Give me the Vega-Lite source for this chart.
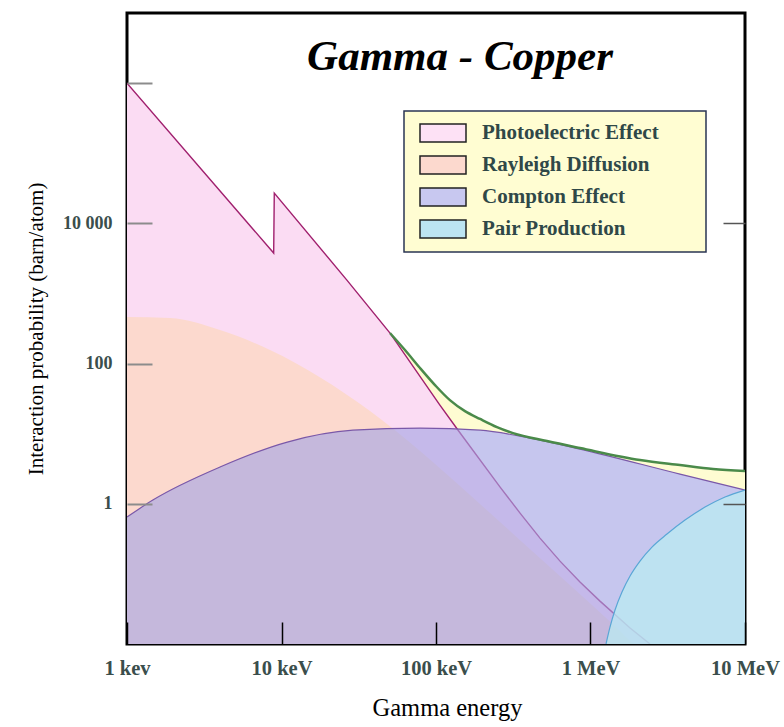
{
  "$schema": "https://vega.github.io/schema/vega-lite/v6.json",
  "width": 618,
  "height": 631,
  "autosize": {"type": "none"},
  "padding": {"left": 127, "top": 13, "right": 39, "bottom": 83},
  "background": "white",
  "title": {"text": "Gamma - Copper", "font": "Liberation Serif", "fontSize": 43, "fontStyle": "italic", "fontWeight": "bold", "color": "black", "anchor": "middle", "offset": -56, "dx": 24, "dy": 44, "baseline": "alphabetic"},
  "config": {
    "view": {"stroke": "black", "strokeWidth": 3},
    "axis": {"domain": false, "grid": false},
    "legend": {"strokeWidth": 1.5}
  },
  "datasets": {
    "photo": [
      {"E": 1, "v": 1000000}, {"E": 8.9, "v": 3770}, {"E": 8.98, "v": 27000}, {"E": 26.5, "v": 1550},
      {"E": 50.4, "v": 272}, {"E": 106, "v": 25.6}, {"E": 139, "v": 11.2}, {"E": 260, "v": 1.73},
      {"E": 350, "v": 0.736}, {"E": 471, "v": 0.324}, {"E": 635, "v": 0.152}, {"E": 855, "v": 0.0764},
      {"E": 1152, "v": 0.0409}, {"E": 1803, "v": 0.0169}, {"E": 2427, "v": 0.01}
    ],
    "rayleigh": [
      {"E": 1, "v": 460}, {"E": 1.9, "v": 446}, {"E": 4, "v": 301}, {"E": 8.43, "v": 156},
      {"E": 17.7, "v": 64}, {"E": 37.4, "v": 21.0}, {"E": 78.8, "v": 5.65}, {"E": 166, "v": 1.33},
      {"E": 350, "v": 0.303}, {"E": 1484, "v": 0.0169}, {"E": 1856, "v": 0.0106}, {"E": 1950, "v": 0.01}
    ],
    "compton": [
      {"E": 1, "v": 0.646}, {"E": 1.47, "v": 1.13}, {"E": 4, "v": 3.34}, {"E": 10.9, "v": 7.59},
      {"E": 29, "v": 11.2}, {"E": 78.8, "v": 12.0}, {"E": 193, "v": 11.2}, {"E": 406, "v": 8.65},
      {"E": 855, "v": 6.03}, {"E": 3795, "v": 2.65}, {"E": 10000, "v": 1.57}
    ],
    "pair": [
      {"E": 1260, "v": 0.01}, {"E": 1337, "v": 0.0174}, {"E": 1441, "v": 0.0305}, {"E": 1599, "v": 0.055},
      {"E": 1803, "v": 0.0931}, {"E": 2091, "v": 0.152}, {"E": 2500, "v": 0.241}, {"E": 3127, "v": 0.37},
      {"E": 4090, "v": 0.585}, {"E": 5510, "v": 0.897}, {"E": 7424, "v": 1.25}, {"E": 10000, "v": 1.57}
    ],
    "total": [
      {"E": 50.4, "v": 272}, {"E": 63, "v": 156}, {"E": 78.8, "v": 86.3}, {"E": 98.5, "v": 49.3},
      {"E": 123, "v": 30.1}, {"E": 154, "v": 21.0}, {"E": 193, "v": 16.2}, {"E": 248, "v": 12.4},
      {"E": 315, "v": 10.2}, {"E": 523, "v": 7.84}, {"E": 855, "v": 6.23}, {"E": 2091, "v": 4.2},
      {"E": 3795, "v": 3.56}, {"E": 6209, "v": 3.13}, {"E": 10000, "v": 2.93}
    ]
  },
  "resolve": {"axis": {"x": "independent", "y": "independent"}},
  "layer": [
    {
      "data": {"name": "total"},
      "mark": {"type": "area", "fill": "#fefcd2", "interpolate": "monotone", "clip": true},
      "encoding": {
        "x": {"field": "E", "type": "quantitative", "scale": {"type": "log", "domain": [1, 10000]},
          "axis": {"orient": "bottom", "values": [1, 10, 100, 1000, 10000], "zindex": 1,
            "labelExpr": "datum.value == 1 ? '1 kev' : datum.value == 10 ? '10 keV' : datum.value == 100 ? '100 keV' : datum.value == 1000 ? '1 MeV' : '10 MeV'",
            "tickSize": -22, "tickColor": "black", "tickWidth": 1.5,
            "labelFont": "Liberation Serif", "labelFontSize": 20.5, "labelFontWeight": "bold", "labelColor": "#3a4e4c", "labelPadding": 36,
            "labelBaseline": "top", "labelFlush": false, "labelOverlap": false, "labelBound": false,
            "title": "Gamma energy", "titleFont": "Liberation Serif", "titleFontSize": 24.5, "titleFontWeight": "normal",
            "titleColor": "black", "titlePadding": 18, "titleX": 320}},
        "y": {"field": "v", "type": "quantitative", "scale": {"type": "log", "domain": [0.01, 10000000]},
          "axis": {"orient": "left", "values": [1, 100, 10000, 1000000], "zindex": 1,
            "labelExpr": "datum.value == 10000 ? '10 000' : datum.value == 100 ? '100' : datum.value == 1 ? '1' : ''",
            "tickSize": -25, "tickColor": "#8c8c8c", "tickWidth": 2,
            "labelFont": "Liberation Serif", "labelFontSize": 18, "labelFontWeight": "bold", "labelColor": "#3a4e4c", "labelPadding": 40,
            "labelBaseline": "middle",
            "title": "Interaction probability (barn/atom)", "titleFont": "Liberation Serif", "titleFontSize": 21,
            "titleFontWeight": "normal", "titleColor": "black", "titlePadding": 16}},
        "y2": {"datum": 0.01}
      }
    },
    {
      "data": {"name": "compton"},
      "mark": {"type": "area", "fill": "white", "interpolate": "monotone", "clip": true},
      "encoding": {
        "x": {"field": "E", "type": "quantitative", "axis": null},
        "y": {"field": "v", "type": "quantitative", "axis": null},
        "y2": {"datum": 0.01}
      }
    },
    {
      "data": {"name": "photo"},
      "mark": {"type": "area", "fill": "#fbdcf3", "clip": true},
      "encoding": {
        "x": {"field": "E", "type": "quantitative", "axis": null},
        "y": {"field": "v", "type": "quantitative", "axis": null},
        "y2": {"datum": 0.01}
      }
    },
    {
      "data": {"name": "photo"},
      "mark": {"type": "line", "stroke": "#a0206e", "strokeWidth": 1.4, "clip": true},
      "encoding": {
        "x": {"field": "E", "type": "quantitative", "axis": null},
        "y": {"field": "v", "type": "quantitative", "axis": null}
      }
    },
    {
      "data": {"name": "rayleigh"},
      "mark": {"type": "area", "interpolate": "monotone", "clip": true, "opacity": 1},
      "encoding": {
        "x": {"field": "E", "type": "quantitative", "axis": null},
        "y": {"field": "v", "type": "quantitative", "axis": null},
        "y2": {"datum": 0.01},
        "color": {"datum": "Rayleigh Diffusion", "type": "nominal",
          "scale": {"domain": ["Photoelectric Effect", "Rayleigh Diffusion", "Compton Effect", "Pair Production"],
            "range": ["#fde1f5", "#fcd9ce", "#c8c8f0", "#bce4f2"]},
          "legend": {"orient": "none", "legendX": 277, "legendY": 98, "title": " ", "titleOrient": "right",
            "titlePadding": 36, "titleFontSize": 8,
            "fillColor": "#fffdd2", "strokeColor": "#2a3553", "padding": 11,
            "symbolType": "M-2.3,-0.9H2.3V0.9H-2.3Z", "symbolSize": 400, "symbolOffset": 17,
            "symbolStrokeColor": "#222222", "symbolStrokeWidth": 1.5, "symbolOpacity": 1,
            "labelFont": "Liberation Serif", "labelFontSize": 21, "labelFontWeight": "bold", "labelColor": "#2f4848",
            "labelOffset": 28, "rowPadding": 8, "labelLimit": 400}}
      }
    },
    {
      "data": {"name": "compton"},
      "mark": {"type": "area", "fill": "#a5a5e4", "opacity": 0.63, "interpolate": "monotone", "clip": true},
      "encoding": {
        "x": {"field": "E", "type": "quantitative", "axis": null},
        "y": {"field": "v", "type": "quantitative", "axis": null},
        "y2": {"datum": 0.01}
      }
    },
    {
      "data": {"name": "compton"},
      "mark": {"type": "line", "stroke": "#7a58a8", "strokeWidth": 1.2, "interpolate": "monotone", "clip": true},
      "encoding": {
        "x": {"field": "E", "type": "quantitative", "axis": null},
        "y": {"field": "v", "type": "quantitative", "axis": null}
      }
    },
    {
      "data": {"name": "pair"},
      "mark": {"type": "area", "fill": "#baebf1", "opacity": 0.75, "interpolate": "monotone", "clip": true},
      "encoding": {
        "x": {"field": "E", "type": "quantitative", "axis": null},
        "y": {"field": "v", "type": "quantitative", "axis": null},
        "y2": {"datum": 0.01}
      }
    },
    {
      "data": {"name": "pair"},
      "mark": {"type": "line", "stroke": "#5aa6d6", "strokeWidth": 1.2, "interpolate": "monotone", "clip": true},
      "encoding": {
        "x": {"field": "E", "type": "quantitative", "axis": null},
        "y": {"field": "v", "type": "quantitative", "axis": null}
      }
    },
    {
      "data": {"name": "total"},
      "mark": {"type": "line", "stroke": "#4a8a4a", "strokeWidth": 2.5, "interpolate": "monotone", "clip": true},
      "encoding": {
        "x": {"field": "E", "type": "quantitative", "axis": null},
        "y": {"field": "v", "type": "quantitative",
          "axis": {"orient": "right", "values": [1, 10000], "labels": false, "tickSize": -22, "tickColor": "#555555",
            "tickWidth": 1.5, "title": null, "domain": false, "grid": false, "zindex": 1}}
      }
    }
  ]
}
